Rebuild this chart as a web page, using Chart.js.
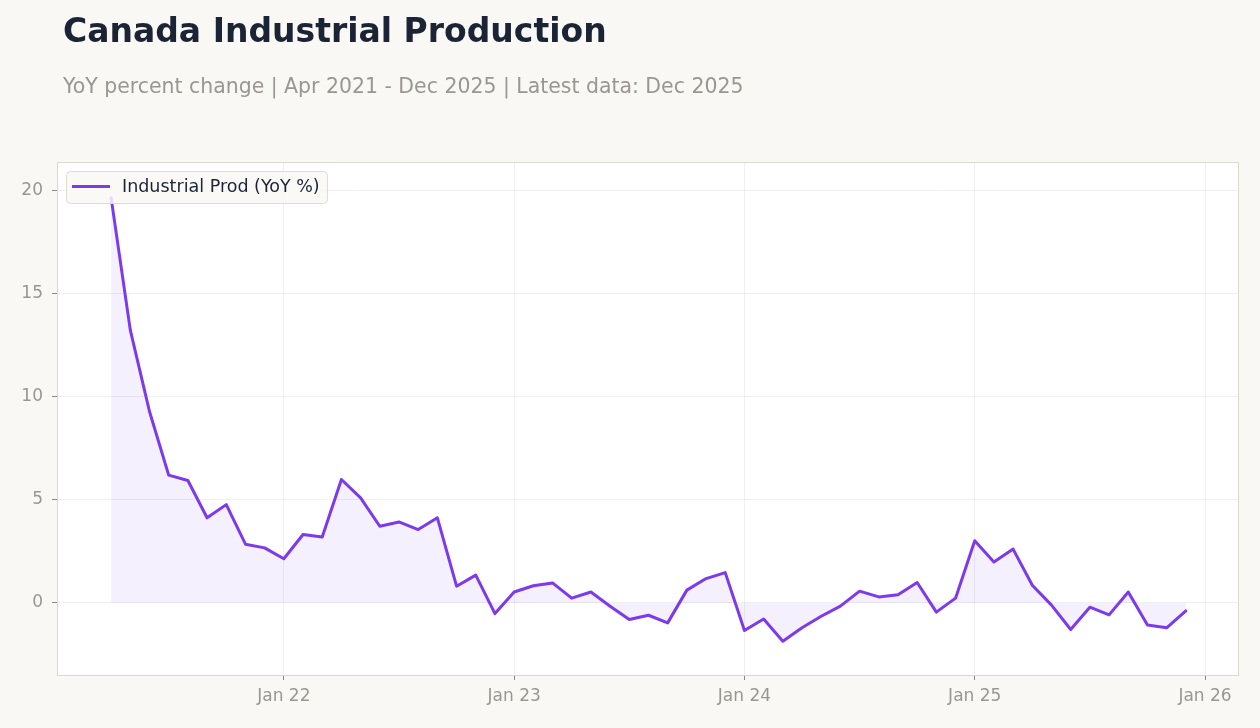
<!DOCTYPE html>
<html>
<head>
<meta charset="utf-8">
<script src="https://cdn.jsdelivr.net/npm/chart.js@4"></script>
<style>
  html, body { margin: 0; padding: 0; background: #f9f8f5; }
  body { width: 1260px; height: 728px; position: relative; overflow: hidden; font-family: "DejaVu Sans", sans-serif; }
  #title { position: absolute; left: 63px; top: 14px; font-size: 33px; line-height: 1; font-weight: bold; color: #1b2435; white-space: nowrap; }
  #subtitle { position: absolute; left: 63px; top: 76px; font-size: 20.45px; line-height: 1; color: #9a9792; white-space: nowrap; }
  #chart { position: absolute; left: 0; top: 0; }
</style>
</head>
<body>
<canvas id="chart" width="1260" height="728"></canvas>
<div id="title">Canada Industrial Production</div>
<div id="subtitle">YoY percent change | Apr 2021 - Dec 2025 | Latest data: Dec 2025</div>
<script>
// monthly observations, Apr 2021 .. Dec 2025
const months = [
    '2021-04', '2021-05', '2021-06', '2021-07', '2021-08', '2021-09', '2021-10', '2021-11', '2021-12',
    '2022-01', '2022-02', '2022-03', '2022-04', '2022-05', '2022-06', '2022-07', '2022-08', '2022-09', '2022-10', '2022-11', '2022-12',
    '2023-01', '2023-02', '2023-03', '2023-04', '2023-05', '2023-06', '2023-07', '2023-08', '2023-09', '2023-10', '2023-11', '2023-12',
    '2024-01', '2024-02', '2024-03', '2024-04', '2024-05', '2024-06', '2024-07', '2024-08', '2024-09', '2024-10', '2024-11', '2024-12',
    '2025-01', '2025-02', '2025-03', '2025-04', '2025-05', '2025-06', '2025-07', '2025-08', '2025-09', '2025-10', '2025-11', '2025-12'
];
const yoyValues = [
    19.66, 13.24, 9.29, 6.20, 5.94, 4.13, 4.77, 2.85, 2.67,
    2.14, 3.32, 3.20, 5.99, 5.10, 3.72, 3.93, 3.56, 4.13, 0.81, 1.35, -0.52,
    0.53, 0.83, 0.97, 0.23, 0.53, -0.16, -0.81, -0.60, -0.97, 0.62, 1.18, 1.47,
    -1.34, -0.78, -1.86, -1.21, -0.65, -0.16, 0.57, 0.29, 0.40, 0.99, -0.45, 0.23,
    3.02, 1.99, 2.61, 0.86, -0.11, -1.29, -0.21, -0.58, 0.53, -1.07, -1.21, -0.39
];
const xTickMonths = ['2022-01', '2023-01', '2024-01', '2025-01', '2026-01'];
const xTickLabels = ['Jan 22', 'Jan 23', 'Jan 24', 'Jan 25', 'Jan 26'];
const yTicks = [0, 5, 10, 15, 20];

const seriesLabel = 'Industrial Prod (YoY %)';
const lineColor = '#7c3aed';

// months since Jan 2021
function monthIndex(s) {
    const [y, m] = s.split('-').map(Number);
    return (y - 2021) * 12 + (m - 1);
}

const points = months.map((m, i) => ({ x: monthIndex(m), y: yoyValues[i] }));
const xTickPos = xTickMonths.map(monthIndex);

const plotBg = {
    id: 'plotBg',
    beforeDraw(chart) {
        const { ctx, chartArea: a } = chart;
        ctx.save();
        ctx.fillStyle = '#ffffff';
        ctx.fillRect(a.left, a.top, a.right - a.left, a.bottom - a.top);
        ctx.restore();
    },
    afterDraw(chart) {
        const { ctx, chartArea: a } = chart;
        ctx.save();
        ctx.strokeStyle = '#ddd8d0';
        ctx.lineWidth = 1;
        ctx.strokeRect(a.left + 0.5, a.top + 0.5, a.right - a.left - 1, a.bottom - a.top);
        ctx.restore();
    }
};

// legend box drawn inside the plot, top-left
const innerLegend = {
    id: 'innerLegend',
    afterDatasetsDraw(chart) {
        const { ctx, chartArea: a } = chart;
        const x = a.left + 9, y = a.top + 9, w = 261, h = 32;
        ctx.save();
        ctx.beginPath();
        ctx.roundRect(x + 0.5, y + 0.5, w, h, 4);
        ctx.fillStyle = 'rgba(249,248,245,0.85)';
        ctx.fill();
        ctx.strokeStyle = '#e0dcd5';
        ctx.lineWidth = 1;
        ctx.stroke();
        ctx.beginPath();
        ctx.moveTo(x + 6, y + 15.5);
        ctx.lineTo(x + 44, y + 15.5);
        ctx.strokeStyle = lineColor;
        ctx.lineWidth = 3;
        ctx.stroke();
        ctx.fillStyle = '#1b2435';
        ctx.font = '17.5px "DejaVu Sans"';
        ctx.textBaseline = 'middle';
        ctx.fillText(seriesLabel, x + 56, y + 16);
        ctx.restore();
    }
};

new Chart(document.getElementById('chart'), {
    type: 'line',
    data: {
        datasets: [{
            label: seriesLabel,
            data: points,
            borderColor: lineColor,
            borderWidth: 3,
            backgroundColor: 'rgba(124,58,237,0.08)',
            fill: 'origin',
            pointRadius: 0,
            tension: 0,
            borderJoinStyle: 'round',
            borderCapStyle: 'round'
        }]
    },
    options: {
        responsive: false,
        animation: false,
        devicePixelRatio: 1,
        layout: { padding: { top: 162, right: 21, left: 0, bottom: 0 } },
        scales: {
            x: {
                type: 'linear',
                min: 0.18,
                max: 61.77,
                afterBuildTicks: scale => { scale.ticks = xTickPos.map(v => ({ value: v })); },
                afterFit: scale => { scale.height = 53; },
                ticks: {
                    callback: v => xTickLabels[xTickPos.indexOf(v)],
                    color: '#9a9792',
                    font: { family: 'DejaVu Sans', size: 17 },
                    padding: 6,
                    maxRotation: 0
                },
                grid: { color: 'rgba(0,0,0,0.06)', tickColor: '#8a8782', tickLength: 5 },
                border: { display: false }
            },
            y: {
                min: -3.5,
                max: 21.4,
                afterBuildTicks: scale => { scale.ticks = yTicks.map(v => ({ value: v })); },
                afterFit: scale => { scale.width = 57; },
                ticks: {
                    color: '#9a9792',
                    font: { family: 'DejaVu Sans', size: 17 },
                    padding: 9
                },
                grid: { color: 'rgba(0,0,0,0.06)', tickColor: '#8a8782', tickLength: 5 },
                border: { display: false }
            }
        },
        plugins: {
            legend: { display: false },
            tooltip: { enabled: false }
        }
    },
    plugins: [plotBg, innerLegend]
});
</script>
</body>
</html>
